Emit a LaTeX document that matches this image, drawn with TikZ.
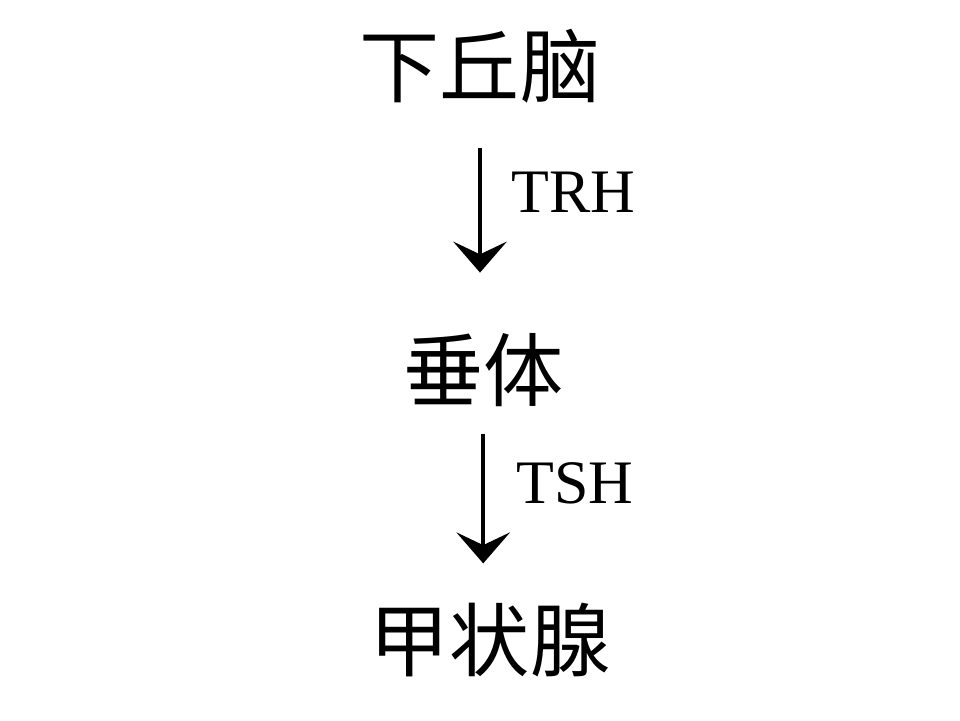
\documentclass[tikz,border=0pt]{standalone}
\usepackage{fontspec}
\newfontfamily\cjk{Noto Sans CJK SC}
\newfontfamily\latin{Liberation Serif}
\usetikzlibrary{arrows.meta}
\begin{document}
\begin{tikzpicture}
  \fill [white] (0, 0) rectangle (24, 18);  % Rahmen 960x720.
  \tikzstyle{organ}=[inner sep=0pt, font=\cjk\fontsize{57}{57}\selectfont]
  \tikzstyle{hormone}=[inner sep=0pt, font=\latin\fontsize{44}{44}\selectfont]
  \tikzstyle{signal}=[line width=2.8pt, -{Stealth[length=22pt, width=38pt, inset=9pt]}]

  \node[organ] (hyp) at (12.0,  16.35) {下丘脑};
  \node[organ] (pit) at (12.08,  8.75) {垂体};
  \node[organ] (thy) at (12.25,  2.0)  {甲状腺};

  \node[hormone] (trh) at (14.33, 13.2)  {TRH};
  \node[hormone] (tsh) at (14.38,  5.925) {TSH};

  \path[signal] (hyp.south) edge[shorten <=32pt, shorten >=43pt] (hyp.south |- pit.north);
  \path[signal] (pit.south) edge[shorten <=19pt, shorten >=28pt] (pit.south |- thy.north);
\end{tikzpicture}
\end{document}
